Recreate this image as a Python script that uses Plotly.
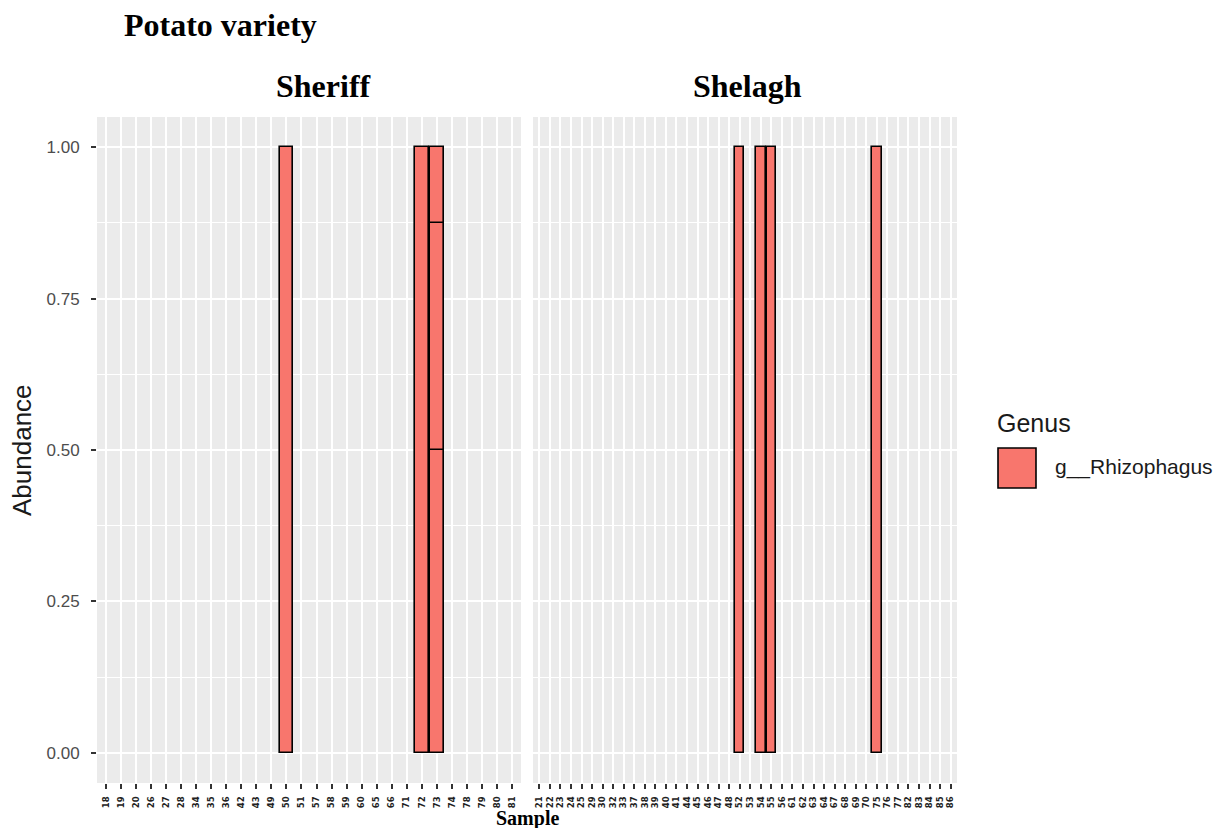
import plotly.graph_objects as go

# ---- data ----
sheriff_samples = ["18","19","20","26","27","28","34","35","36","42","43","49","50","51",
                   "57","58","59","60","65","66","71","72","73","74","78","79","80","81"]
shelagh_samples = ["21","22","23","24","25","29","30","32","33","37","38","39","40","41",
                   "44","45","46","47","48","52","53","54","55","56","61","62","63","64",
                   "67","68","69","70","75","76","77","82","83","84","85","86"]
sheriff_bar_samples = ["50", "72", "73", "73", "73"]
sheriff_bar_values = [1.0, 1.0, 0.5, 0.375, 0.125]
shelagh_bar_samples = ["52", "54", "55", "75"]
shelagh_bar_values = [1.0, 1.0, 1.0, 1.0]
genus = "g__Rhizophagus"
panels = ["Sheriff", "Shelagh"]
y_ticks = [0.0, 0.25, 0.5, 0.75, 1.0]
y_ticklabels = ["0.00", "0.25", "0.50", "0.75", "1.00"]

FILL = "#F8766D"
OFF = 8  # page body margin
W, H = 1227 - 2 * OFF, 836 - 2 * OFF


def bases(samples, values):
    acc = {}
    out = []
    for s, v in zip(samples, values):
        b = acc.get(s, 0.0)
        out.append(b)
        acc[s] = b + v
    return out


fig = go.Figure()
fig.add_trace(go.Bar(x=sheriff_bar_samples, y=sheriff_bar_values,
                     base=bases(sheriff_bar_samples, sheriff_bar_values),
                     width=0.9, marker=dict(color=FILL, line=dict(color="black", width=1.6)),
                     xaxis="x", yaxis="y", name=genus, showlegend=False))
fig.add_trace(go.Bar(x=shelagh_bar_samples, y=shelagh_bar_values,
                     base=bases(shelagh_bar_samples, shelagh_bar_values),
                     width=0.9, marker=dict(color=FILL, line=dict(color="black", width=1.6)),
                     xaxis="x2", yaxis="y2", name=genus, showlegend=False))


def px_x(p):
    return (p - OFF) / W


def px_y(p):
    return 1 - (p - OFF) / H


xdom1 = [px_x(97), px_x(521)]
xdom2 = [px_x(533), px_x(957)]
ydom = [px_y(783), px_y(117)]

xcommon = dict(type="category", showgrid=True, gridcolor="white", gridwidth=1.6,
               ticks="outside", ticklen=5, tickwidth=1.5, tickcolor="#333333",
               ticklabelstandoff=4,
               tickangle=-90, tickfont=dict(family="DejaVu Sans", size=8.5, color="#222222", weight="bold"),
               zeroline=False, showline=False, fixedrange=True)
ycommon = dict(range=[-0.05, 1.05], tickvals=y_ticks, showgrid=True, gridcolor="white", gridwidth=1.6,
               minor=dict(showgrid=True, gridcolor="white", gridwidth=0.7, dtick=0.125, tick0=0),
               zeroline=False, showline=False, domain=ydom)

fig.update_layout(
    width=W, height=H, margin=dict(l=0, r=0, t=0, b=0),
    paper_bgcolor="white", plot_bgcolor="#EBEBEB", barmode="overlay", bargap=0,
    showlegend=False,
    xaxis=dict(xcommon, domain=xdom1, anchor="y", categoryorder="array",
               categoryarray=sheriff_samples, range=[-0.6, len(sheriff_samples) - 0.4]),
    xaxis2=dict(xcommon, domain=xdom2, anchor="y2", categoryorder="array",
                categoryarray=shelagh_samples, range=[-0.6, len(shelagh_samples) - 0.4]),
    yaxis=dict(ycommon, anchor="x", ticktext=y_ticklabels, ticks="outside", ticklen=5,
               tickwidth=1.5, tickcolor="#333333", ticklabelstandoff=8,
               tickfont=dict(family="Liberation Sans", size=17, color="#4D4D4D")),
    yaxis2=dict(ycommon, anchor="x2", showticklabels=False, ticks=""),
)

serif = "Liberation Serif"
ann = []
ann.append(dict(text="<b>Potato variety</b>", x=px_x(122), y=px_y(25), xref="paper", yref="paper",
                xanchor="left", yanchor="middle", showarrow=False,
                font=dict(family=serif, size=32, color="black")))
for name, dom, shift in zip(panels, [xdom1, xdom2], [14, 2]):
    ann.append(dict(text="<b>" + name + "</b>", x=(dom[0] + dom[1]) / 2, y=px_y(86),
                    xshift=shift,
                    xref="paper", yref="paper", xanchor="center", yanchor="middle",
                    showarrow=False, font=dict(family=serif, size=32, color="black")))
ann.append(dict(text="<b>Sample</b>", x=(xdom1[0] + xdom2[1]) / 2, y=0, xref="paper", yref="paper",
                xanchor="center", yanchor="bottom", yshift=-4, showarrow=False,
                font=dict(family=serif, size=20, color="black")))
ann.append(dict(text="Abundance", x=px_x(22), y=(ydom[0] + ydom[1]) / 2, xref="paper", yref="paper",
                xanchor="center", yanchor="middle", textangle=-90, showarrow=False,
                font=dict(family="Liberation Sans", size=26, color="#1a1a1a")))
ann.append(dict(text="Genus", x=px_x(995), y=px_y(423), xref="paper", yref="paper",
                xanchor="left", yanchor="middle", showarrow=False,
                font=dict(family="Liberation Sans", size=25, color="#1a1a1a")))
ann.append(dict(text=genus, x=px_x(1053), y=px_y(467), xref="paper", yref="paper",
                xanchor="left", yanchor="middle", showarrow=False,
                font=dict(family="Liberation Sans", size=21, color="#1a1a1a")))
fig.update_layout(annotations=ann)

fig.add_shape(type="rect", xref="paper", yref="paper",
              x0=px_x(998), x1=px_x(1036), y0=px_y(488), y1=px_y(448),
              fillcolor=FILL, line=dict(color="black", width=1.6))

fig.write_html("out.html")
